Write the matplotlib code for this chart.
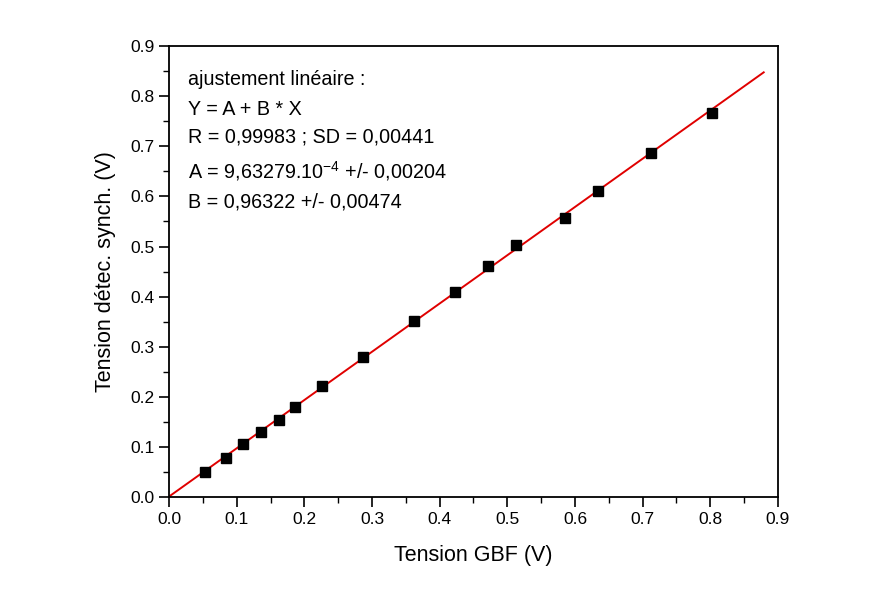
import numpy as np
import matplotlib
matplotlib.use("Agg")
import matplotlib.pyplot as plt
from matplotlib.ticker import MultipleLocator

plt.rcParams['font.family'] = ['Liberation Sans', 'DejaVu Sans']
plt.rcParams['mathtext.fontset'] = 'custom'
plt.rcParams['mathtext.rm'] = 'Liberation Sans'
plt.rcParams['mathtext.it'] = 'Liberation Sans'

# measured points
tension_gbf = [0.053, 0.084, 0.109, 0.136, 0.163, 0.186, 0.226, 0.287,
               0.362, 0.423, 0.471, 0.513, 0.585, 0.634, 0.712, 0.802]
tension_sync = [0.050, 0.078, 0.106, 0.130, 0.154, 0.180, 0.222, 0.279,
                0.351, 0.409, 0.461, 0.503, 0.557, 0.611, 0.687, 0.766]

# linear fit parameters
A = 9.63279e-4
B = 0.96322
fit_x = [0.0, 0.879]

fig = plt.figure(figsize=(8.85, 5.91), dpi=100)
ax = fig.add_axes([0.191, 0.159, 0.688, 0.763])

fx = np.array(fit_x)
ax.plot(fx, A + B * fx, color='#e00000', linewidth=1.4, zorder=2)
ax.plot(tension_gbf, tension_sync, 's', color='black', markersize=7, zorder=3)

ax.set_xlim(0, 0.9)
ax.set_ylim(0, 0.9)
ax.xaxis.set_major_locator(MultipleLocator(0.1))
ax.yaxis.set_major_locator(MultipleLocator(0.1))
ax.xaxis.set_minor_locator(MultipleLocator(0.05))
ax.yaxis.set_minor_locator(MultipleLocator(0.05))
ax.xaxis.set_major_formatter(plt.FormatStrFormatter('%.1f'))
ax.yaxis.set_major_formatter(plt.FormatStrFormatter('%.1f'))
ax.tick_params(which='major', direction='out', length=7, width=1.2, labelsize=12.5)
ax.tick_params(which='minor', direction='out', length=4, width=1.0)
ax.tick_params(top=False, right=False)
for s in ax.spines.values():
    s.set_linewidth(1.3)

ax.set_xlabel('Tension GBF (V)', fontsize=15.5, labelpad=13)
ax.set_ylabel('Tension détec. synch. (V)', fontsize=15.5, labelpad=10)

lines = ['ajustement linéaire :',
         'Y = A + B * X',
         'R = 0,99983 ; SD = 0,00441',
         'A = 9,63279.10$^{-4}$ +/- 0,00204',
         'B = 0,96322 +/- 0,00474']
ypos = [0.913, 0.847, 0.787, 0.707, 0.643]
for t, yy in zip(lines, ypos):
    ax.text(0.031, yy, t, transform=ax.transAxes, fontsize=14.2,
            va='baseline', ha='left')

fig.savefig('out.png', dpi=100)
